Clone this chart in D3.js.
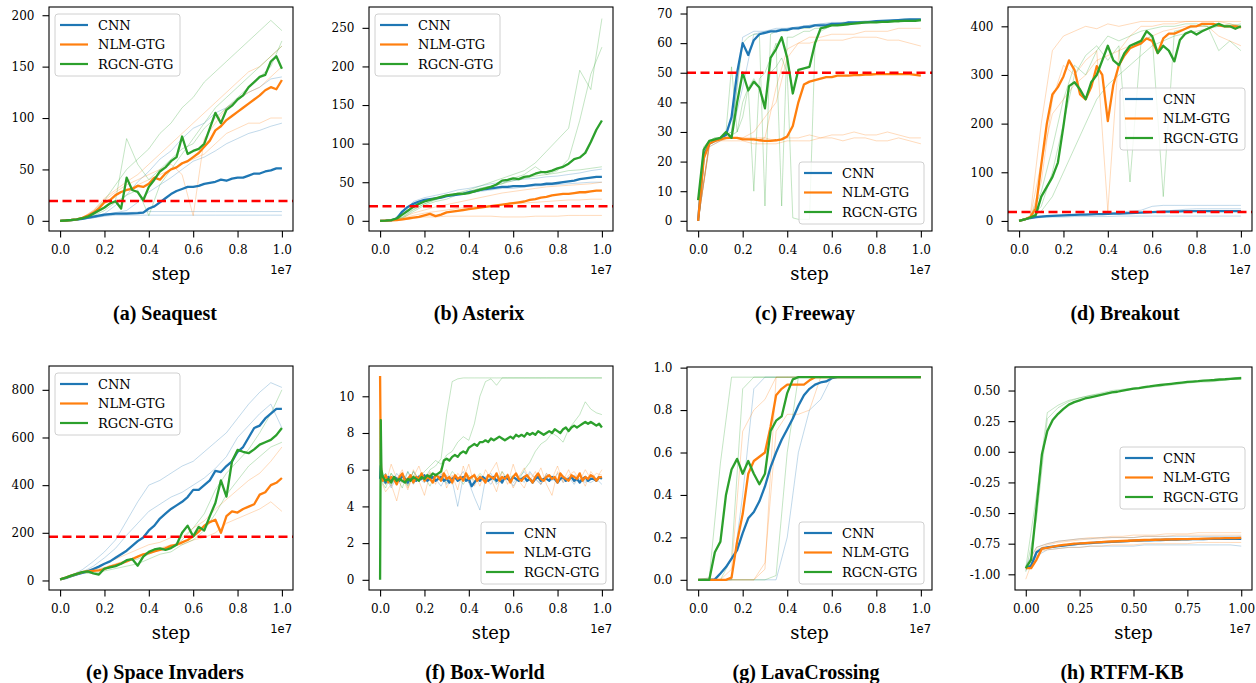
<!DOCTYPE html>
<html>
<head>
<meta charset="utf-8">
<script src="https://cdn.jsdelivr.net/npm/d3@7"></script>
<style>
body { margin: 0; background: #fff; }
svg { display: block; }
</style>
</head>
<body>
<svg id="chart" width="1256" height="683"></svg>
<script>
// ---- data (x runs evenly from 0 to 1e7 steps) ----
var methods = ["CNN", "NLM-GTG", "RGCN-GTG"];

// (a) Seaquest
var seaquestCNN = [0,0.3,0.7,1.2,2,3,4,5,6,6.5,7,7,7,7.2,7.5,8,12,14,18,22,26,29,31,33,33,34,36,37,38,40,39,41,42,42,44,46,46,48,49,51,51];
var seaquestNLM = [0,0.3,0.8,1.5,3,5,8,12,18,20,25,28,30,31,34,33,36,42,40,46,50,52,56,58,62,66,72,78,88,92,98,102,106,110,114,118,122,127,130,128,137];
var seaquestRGCN = [0,0.3,0.8,1.5,2.5,4,7,10,13,17,19,12,42,30,28,20,33,40,48,52,58,62,82,65,68,70,75,90,105,95,108,112,118,122,130,135,140,142,155,160,148];
var seaquestCNNRuns = [
  [0,0.5,1.5,3,5,7,8,8.5,9,9,9,9,9,9,9,9,9,9,9,9,9],
  [0,0.5,1.5,3,4.5,5.5,5.5,5.5,5.5,5.5,5.5,5.5,5.5,5.5,5.5,5.5,5.5,5.5,5.5,5.5,5.5],
  [0,0.5,2,4,7,15,25,38,48,60,68,80,90,95,105,110,118,125,130,138,140],
  [0,0.5,1.5,3,6,8,10,18,28,35,42,50,58,62,68,75,80,85,88,92,95]];
var seaquestNLMRuns = [
  [0,0.5,3,10,22,30,38,45,55,65,75,85,95,105,115,125,135,145,150,160,170],
  [0,0.5,2,8,18,25,30,35,40,45,50,55,60,65,75,85,90,95,95,100,100],
  [0,0.5,3,10,20,28,35,40,45,50,55,45,5,80,95,110,118,125,130,140,150]];
var seaquestRGCNRuns = [
  [0,0.5,3,8,20,35,50,60,70,85,95,110,120,135,145,155,165,175,185,195,185],
  [0,0.5,2,6,12,20,80,55,40,50,60,70,75,90,100,110,120,130,140,150,175],
  [0,0.5,2,5,10,18,25,30,5,35,50,65,80,95,110,120,130,140,150,160,170]];

// (b) Asterix
var asterixCNN = [0,0.2,0.6,3,12,18,22,25,27,28,29,30,32,33,34,35,37,38,40,41,42,43,44,44,45,45,45,46,47,47,48,48,49,50,51,52,54,55,56,57,57];
var asterixNLM = [0,0.2,0.5,1,2,3,4,5,7,9,6,8,11,12,13,14,15,16,17,18,19,20,21,22,23,24,25,27,28,30,31,33,34,35,35,36,37,37,38,39,39];
var asterixRGCN = [0,0.3,1,3,8,13,18,22,25,27,29,31,33,34,35,35,36,38,40,42,44,47,52,53,55,54,57,58,61,63,63,65,68,70,74,80,82,88,102,118,130];
var asterixCNNRuns = [
  [0,0.5,10,25,30,33,36,40,42,45,48,50,52,54,55,57,58,60,62,65,67],
  [0,0.3,8,20,25,28,32,35,36,38,40,42,42,44,45,46,47,48,49,50,50]];
var asterixNLMRuns = [
  [0,0.2,1,3,5,5,6,6,6,6,6,5,5,5,6,6,6,7,7,7,7],
  [0,0.5,3,7,10,12,14,16,18,19,20,21,22,23,24,25,26,27,27,28,28],
  [0,0.5,4,10,14,18,21,24,27,30,33,36,38,40,42,44,45,46,47,48,50]];
var asterixRGCNRuns = [
  [0,0.5,5,15,22,28,32,36,40,45,50,55,60,65,75,90,105,120,195,170,262],
  [0,0.5,4,14,22,27,32,36,38,42,45,48,52,55,58,60,62,65,66,68,70],
  [0,0.5,3,12,20,25,28,34,38,42,45,48,55,60,70,60,65,80,130,190,225]];

// (c) Freeway
var freewayCNN = [0,22,26,27,28,29,35,50,60,56,61,63,63.5,64,64,64.5,64.5,65,65,65.5,65.5,66,66,66,66.5,66.5,66.5,67,67,67,67,67.2,67.4,67.5,67.6,67.7,67.8,67.9,68,68,68];
var freewayNLM = [0,21,26,27,27.5,28,28,28,27.5,27.5,27.5,27.2,27,27,27.2,27.5,28.5,32,40,46,47,47.5,48,48.5,48.5,49,49,49,49.2,49.2,49.4,49.4,49.5,49.5,49.5,49.5,49.5,49.5,49.5,49.3,49];
var freewayRGCN = [7,24,27,27.5,28,30,28,40,50,44,47,45,38,55,58,62,55,43,51,51.5,52,60,65,65.5,66,66,66.2,66.4,66.6,66.8,67,67,67,67.2,67.2,67.4,67.4,67.5,67.5,67.5,67.8];
var freewayCNNRuns = [
  [0,26,28,30,62,64,64,65,65,65.5,66,66.5,66.5,67,67,67,67.5,67.5,68,68,68],
  [0,25,27,29,45,63,64,64.5,65,65.5,66,66.5,67,67,67,67.5,67.5,67.5,68,68,68]];
var freewayNLMRuns = [
  [0,26,28,28,28,27,28,27,28,28,29,28,29,29,30,29,29,30,29,28,28],
  [0,25,27,27,27,26,26,26,27,27,27,28,28,27,28,28,27,27,28,27,26],
  [0,26,28,28,28,30,35,40,55,60,62,62,63,63,63,64,64,64,65,65,65],
  [0,26,27,28,28,28,28,45,58,60,60,61,61,61,62,62,62,61,61,60,59]];
var freewayRGCNRuns = [
  [7,25,27,28,28,29,30,45,60,62,63,63,5,63,64,64,64,65,65,65,65,66,66,66,66,66,67,67,67,67,67,67,67,67,67,67,68,68,68,68,68],
  [7,24,27,28,28,30,52,30,35,45,10,48,50,55,60,5,62,62,63,64,64,65,65,65,66,66,66,66,67,67,67,67,67,67,67,67,67,68,68,68,68],
  [7,23,26,27,28,29,29,30,40,45,48,45,40,50,52,55,50,1,0.5,0.5,0.5,60,64,65,66,66,66,67,67,67,67,67,67,67,67,67.5,67.5,67.5,67.5,67.5,67.5]];

// (d) Breakout
var breakoutCNN = [0,3,6,8,9,10,10.5,11,11.5,12,12.5,13,13,13.5,14,14,14.5,15,15,15.5,16,16.5,17,17.5,18,18.5,19,19,19.5,19.5,20,20,20,20,20,20,20,20,20,20,20];
var breakoutNLM = [0,3,8,25,115,200,260,275,297,330,310,260,250,275,318,300,205,280,320,340,355,360,365,375,370,345,375,385,385,390,395,400,400,405,405,405,402,400,400,400,398];
var breakoutRGCN = [0,3,7,12,50,70,90,120,195,277,285,270,250,285,300,330,360,330,320,345,360,365,370,390,380,345,360,350,328,372,385,390,383,390,395,400,405,400,400,395,400];
var breakoutCNNRuns = [
  [0,8,10,11,12,13,14,15,16,18,20,22,30,32,32,32,32,32,32,32,32],
  [0,6,9,10,11,12,13,14,15,16,17,18,19,20,22,24,25,25,25,25,25],
  [0,5,7,8,8,9,9,9,9,10,10,10,10,10,10,10,10,10,10,10,10]];
var breakoutNLMRuns = [
  [0,10,200,350,380,390,400,395,405,400,405,410,410,410,410,410,410,410,410,410,410],
  [0,5,80,250,320,300,330,350,20,350,380,400,400,405,405,410,410,410,410,405,400],
  [0,8,120,220,250,280,300,330,340,350,360,370,380,390,395,400,400,400,380,370,360]];
var breakoutRGCNRuns = [
  [0,5,30,100,200,300,340,360,330,360,80,370,380,50,390,395,400,400,400,405,400],
  [0,8,60,150,250,320,300,350,380,370,380,390,395,400,400,405,405,400,350,370,350],
  [0,6,20,50,100,150,200,250,280,300,320,340,360,370,380,385,390,395,400,400,405]];

// (e) Space Invaders
var invadersCNN = [5,10,18,25,32,38,48,58,70,80,95,110,125,145,165,180,210,230,260,280,300,315,330,350,380,380,400,420,460,455,480,500,540,560,600,640,650,680,700,720,720];
var invadersNLM = [5,12,20,28,35,38,40,42,48,58,65,72,80,90,100,110,115,122,128,135,145,150,160,170,185,205,230,245,255,200,270,290,285,300,310,320,360,370,400,410,430];
var invadersRGCN = [5,12,20,28,35,38,30,25,50,55,60,70,85,90,62,100,120,130,135,128,136,150,200,230,185,225,210,270,325,420,352,500,548,540,534,550,570,580,590,610,640];
var invadersCNNRuns = [
  [5,22,45,80,120,170,250,330,400,420,450,480,500,540,580,620,680,740,790,830,810],
  [5,18,35,60,95,135,190,240,290,320,350,370,400,430,470,520,600,650,700,740,640]];
var invadersNLMRuns = [
  [5,18,35,45,55,70,85,100,120,135,150,150,170,180,200,240,260,280,300,330,290],
  [5,20,38,50,70,90,110,130,150,160,180,180,220,250,300,340,380,420,450,500,560]];
var invadersRGCNRuns = [
  [5,18,35,40,50,60,80,90,110,130,140,170,220,280,380,450,500,550,620,700,800],
  [5,15,30,30,40,50,60,70,90,110,120,150,170,210,280,360,420,480,520,560,580]];

// (f) Box-World (mean curves sampled densely, with the spike at step 0)
var boxSteps = [0, 30000, 60000].concat(d3.range(1, 81).map(function (i) { return i * 125000; }));
var boxCNN = [5.5,6.2,5.8,
  5.5,5.3,5.6,5.4,5.6,5.5,5.4,5.7,5.5,5.3,5.6,5.5,5.4,5.6,5.5,5.7,5.4,5.5,5.6,5.4,
  5.5,5.6,5.4,5.5,5.3,5.5,5.6,5.4,5.5,5.6,5.4,5.5,5.1,5.3,5.5,5.4,5.6,5.5,5.4,5.5,
  5.6,5.4,5.5,5.3,5.6,5.5,5.4,5.6,5.5,5.4,5.5,5.6,5.4,5.5,5.3,5.5,5.6,5.4,5.5,5.5,
  5.4,5.6,5.5,5.3,5.5,5.6,5.4,5.5,5.6,5.4,5.5,5.3,5.5,5.6,5.4,5.5,5.5,5.4,5.6,5.5];
var boxNLM = [11.1,6.5,5.6,
  5.4,5.7,5.3,5.6,5.5,5.2,5.6,5.8,5.4,5.5,5.7,5.3,5.6,5.5,5.8,5.4,5.6,5.5,5.3,5.7,
  5.6,5.4,5.8,5.5,5.6,5.3,5.7,5.5,5.6,5.4,5.8,5.5,5.6,5.7,5.4,5.6,5.5,5.3,5.7,5.6,
  5.5,5.8,5.4,5.6,5.5,5.7,5.3,5.6,5.8,5.5,5.4,5.6,5.7,5.5,5.3,5.6,5.8,5.5,5.4,5.6,
  5.7,5.5,5.6,5.3,5.8,5.6,5.5,5.4,5.7,5.6,5.5,5.8,5.4,5.6,5.5,5.7,5.6,5.4,5.6,5.6];
var boxRGCN = [0,8.7,6.0,
  5.6,5.4,5.5,5.3,5.6,5.4,5.5,5.4,5.3,5.5,5.4,5.6,5.5,5.4,5.6,5.5,5.7,5.6,5.8,5.7,
  5.8,5.9,6.5,6.6,6.5,6.7,6.8,6.7,6.9,7.0,6.9,7.2,7.3,7.4,7.3,7.5,7.5,7.6,7.5,7.7,
  7.6,7.7,7.8,7.7,7.6,7.7,7.8,7.7,7.9,7.8,7.9,7.8,8.0,7.9,8.0,7.9,8.1,8.0,7.9,8.0,
  8.1,8.0,8.2,8.1,8.0,8.2,8.3,8.1,8.3,8.4,8.3,8.4,8.5,8.6,8.5,8.6,8.5,8.4,8.5,8.3];
var boxCNNRuns = [
  [5.5,5.8,5.0,5.6,5.3,5.9,5.2,5.7,5.4,5.8,5.5,5.1,5.7,5.4,4.0,5.6,5.3,4.5,3.8,5.5,5.2,5.8,5.4,5.7,5.1,5.6,5.3,5.9,5.5,5.2,5.7,5.4,5.8,5.3,5.6,5.2,5.7,5.4,5.3,5.5,5.2],
  [5.3,5.6,5.1,5.8,5.4,5.2,5.9,5.5,5.3,5.7,5.4,5.8,5.2,5.6,5.5,5.9,5.3,5.7,5.4,5.6,5.8,5.2,5.5,5.7,5.3,5.6,5.9,5.4,5.5,5.2,5.8,5.5,5.3,5.6,5.4,5.7,5.5,5.3,5.6,5.4,5.6]];
var boxNLMRuns = [
  [5.5,4.8,5.2,4.3,5.6,4.9,6.0,5.4,4.6,5.8,5.2,6.1,5.0,5.7,4.9,6.2,5.3,5.8,5.1,6.0,5.5,4.8,5.9,5.2,6.3,5.4,5.0,5.8,5.5,6.1,5.2,4.6,5.9,5.4,6.0,5.3,5.7,5.1,5.9,5.5,6.0],
  [5.8,5.2,6.3,5.5,6.0,5.0,5.6,6.2,5.3,5.9,5.4,5.7,6.0,5.2,5.8,5.5,6.3,5.1,5.7,5.4,5.9,6.4,5.3,5.8,5.0,5.6,6.1,5.4,5.9,5.2,5.8,5.5,6.2,5.3,5.7,5.9,5.4,6.0,5.5,5.8,5.7]];
var boxRGCNRuns = [
  [5.5,5.8,5.2,5.6,5.0,5.9,5.4,5.7,5.5,6.0,6.2,6.6,9.0,10.8,10.95,11,11,11,11,11,11,11,11,11,11,11,11,11,11,11,11,11,11,11,11,11,11,11,11,11,11],
  [5.5,5.2,5.8,5.4,5.6,5.1,5.7,5.5,5.9,6.2,6.5,6.3,6.8,7.0,7.5,7.8,7.6,8.5,10.0,10.8,10.95,10.6,11,11,11,11,11,11,11,11,11,11,11,11,11,11,11,11,11,11,11],
  [5.5,5.0,5.8,5.3,5.6,5.2,5.9,5.4,5.6,5.1,5.8,5.5,5.3,5.9,5.6,5.2,5.7,5.4,5.8,5.5,5.6,5.3,5.9,5.5,5.7,5.4,6.0,6.4,7.0,7.4,7.6,8.0,7.8,7.5,8.2,8.6,9.0,9.7,9.3,9.1,9.0]];

// (g) LavaCrossing
var lavaCNN = [0,0,0,0.002,0.03,0.06,0.1,0.14,0.22,0.29,0.32,0.37,0.44,0.53,0.6,0.66,0.71,0.76,0.82,0.87,0.9,0.92,0.93,0.935,0.95,0.955,0.955,0.955,0.955,0.955,0.955,0.955,0.955,0.955,0.955,0.955,0.955,0.955,0.955,0.955,0.955];
var lavaNLM = [0,0,0,0,0,0,0.01,0.18,0.31,0.5,0.56,0.58,0.6,0.72,0.87,0.9,0.92,0.92,0.92,0.92,0.94,0.955,0.955,0.955,0.955,0.955,0.955,0.955,0.955,0.955,0.955,0.955,0.955,0.955,0.955,0.955,0.955,0.955,0.955,0.955,0.955];
var lavaRGCN = [0,0,0,0.13,0.18,0.4,0.52,0.57,0.5,0.56,0.5,0.45,0.5,0.7,0.75,0.77,0.88,0.945,0.955,0.955,0.955,0.955,0.955,0.955,0.955,0.955,0.955,0.955,0.955,0.955,0.955,0.955,0.955,0.955,0.955,0.955,0.955,0.955,0.955,0.955,0.955];
var lavaCNNRuns = [
  [0,0,0,0,0.4,0.9,0.955,0.955,0.955,0.955,0.955,0.955,0.955,0.955,0.955,0.955,0.955,0.955,0.955,0.955,0.955],
  [0,0,0,0,0,0,0,0,0.2,0.6,0.8,0.85,0.955,0.955,0.955,0.955,0.955,0.955,0.955,0.955,0.955]];
var lavaNLMRuns = [
  [0,0,0,0.05,0.7,0.8,0.85,0.955,0.955,0.955,0.955,0.955,0.955,0.955,0.955,0.955,0.955,0.955,0.955,0.955,0.955],
  [0,0,0,0,0,0,0.08,0.7,0.78,0.78,0.8,0.955,0.955,0.955,0.955,0.955,0.955,0.955,0.955,0.955,0.955],
  [0,0,0,0,0,0,0.05,0.955,0.955,0.955,0.955,0.955,0.955,0.955,0.955,0.955,0.955,0.955,0.955,0.955,0.955]];
var lavaRGCNRuns = [
  [0,0.01,0.55,0.955,0.955,0.955,0.955,0.955,0.955,0.955,0.955,0.955,0.955,0.955,0.955,0.955,0.955,0.955,0.955,0.955,0.955],
  [0,0,0,0.1,0.9,0.955,0.955,0.955,0.955,0.955,0.955,0.955,0.955,0.955,0.955,0.955,0.955,0.955,0.955,0.955,0.955],
  [0,0,0,0,0,0,0,0.02,0.6,0.955,0.955,0.955,0.955,0.955,0.955,0.955,0.955,0.955,0.955,0.955,0.955]];

// (h) RTFM-KB
var rtfmCNN = [-0.95,-0.93,-0.82,-0.79,-0.78,-0.775,-0.77,-0.765,-0.76,-0.755,-0.75,-0.748,-0.745,-0.742,-0.74,-0.738,-0.735,-0.733,-0.73,-0.728,-0.725,-0.724,-0.723,-0.722,-0.72,-0.72,-0.718,-0.717,-0.716,-0.715,-0.714,-0.713,-0.712,-0.712,-0.711,-0.711,-0.71,-0.71,-0.71,-0.71,-0.71];
var rtfmNLM = [-0.95,-0.95,-0.88,-0.79,-0.785,-0.775,-0.765,-0.76,-0.755,-0.75,-0.748,-0.745,-0.742,-0.74,-0.737,-0.734,-0.732,-0.73,-0.728,-0.726,-0.724,-0.722,-0.72,-0.719,-0.718,-0.717,-0.716,-0.715,-0.714,-0.713,-0.712,-0.711,-0.71,-0.709,-0.708,-0.707,-0.706,-0.705,-0.705,-0.704,-0.703];
var rtfmRGCN = [-0.95,-0.88,-0.45,-0.02,0.17,0.26,0.31,0.35,0.385,0.405,0.42,0.435,0.445,0.455,0.465,0.475,0.485,0.49,0.5,0.508,0.515,0.52,0.527,0.533,0.54,0.545,0.55,0.555,0.56,0.565,0.57,0.573,0.576,0.58,0.583,0.586,0.59,0.592,0.595,0.598,0.6];
var rtfmCNNRuns = [
  [-0.97,-0.85,-0.8,-0.79,-0.78,-0.78,-0.77,-0.77,-0.77,-0.77,-0.77,-0.76,-0.76,-0.76,-0.76,-0.76,-0.76,-0.76,-0.76,-0.76,-0.77],
  [-0.93,-0.78,-0.75,-0.73,-0.72,-0.71,-0.71,-0.7,-0.7,-0.7,-0.7,-0.69,-0.69,-0.69,-0.69,-0.69,-0.69,-0.69,-0.69,-0.69,-0.69]];
var rtfmNLMRuns = [
  [-0.95,-0.78,-0.75,-0.73,-0.72,-0.71,-0.7,-0.7,-0.69,-0.69,-0.68,-0.68,-0.68,-0.67,-0.67,-0.67,-0.66,-0.66,-0.66,-0.66,-0.66],
  [-0.96,-0.82,-0.8,-0.79,-0.78,-0.78,-0.77,-0.77,-0.76,-0.76,-0.76,-0.75,-0.75,-0.75,-0.75,-0.75,-0.74,-0.74,-0.74,-0.74,-0.74],
  [-1.04,-0.8,-0.76,-0.74,-0.73,-0.72,-0.71,-0.71,-0.7,-0.7,-0.7,-0.69,-0.69,-0.69,-0.68,-0.68,-0.68,-0.68,-0.68,-0.68,-0.68]];
var rtfmRGCNRuns = [
  [-0.95,-0.35,0.32,0.38,0.42,0.44,0.46,0.47,0.49,0.5,0.51,0.52,0.53,0.54,0.55,0.56,0.57,0.57,0.58,0.59,0.6],
  [-0.98,-0.55,0.27,0.36,0.41,0.44,0.46,0.48,0.5,0.51,0.52,0.53,0.54,0.55,0.56,0.57,0.58,0.58,0.59,0.6,0.61]];

// ---- layout ----
var colors = ["#1f77b4", "#ff7f0e", "#2ca02c"];
var xTicks = [0, 2e6, 4e6, 6e6, 8e6, 1e7];
var xTicksH = [0, 2.5e6, 5e6, 7.5e6, 1e7];

var panels = [
  { title: "(a) Seaquest", box: [49, 7, 293, 231], yDomain: [-9.9, 208], yTicks: [0,50,100,150,200], dec: 0,
    means: [seaquestCNN, seaquestNLM, seaquestRGCN], runs: [seaquestCNNRuns, seaquestNLMRuns, seaquestRGCNRuns],
    threshold: 19.3, legend: [55, 14], titleX: 165 },
  { title: "(b) Asterix", box: [369, 7, 613, 231], yDomain: [-13.2, 277], yTicks: [0,50,100,150,200,250], dec: 0,
    means: [asterixCNN, asterixNLM, asterixRGCN], runs: [asterixCNNRuns, asterixNLMRuns, asterixRGCNRuns],
    threshold: 19, legend: [375, 14], titleX: 479 },
  { title: "(c) Freeway", box: [687, 7, 932, 231], yDomain: [-3.44, 72.2], yTicks: [0,10,20,30,40,50,60,70], dec: 0,
    means: [freewayCNN, freewayNLM, freewayRGCN], runs: [freewayCNNRuns, freewayNLMRuns, freewayRGCNRuns],
    threshold: 50, legend: [799, 162], titleX: 805 },
  { title: "(d) Breakout", box: [1008, 7, 1252, 231], yDomain: [-20.7, 439.7], yTicks: [0,100,200,300,400], dec: 0,
    means: [breakoutCNN, breakoutNLM, breakoutRGCN], runs: [breakoutCNNRuns, breakoutNLMRuns, breakoutRGCNRuns],
    threshold: 18.5, legend: [1120, 88], titleX: 1125 },
  { title: "(e) Space Invaders", box: [49, 366, 293, 590], yDomain: [-40, 900], yTicks: [0,200,400,600,800], dec: 0,
    means: [invadersCNN, invadersNLM, invadersRGCN], runs: [invadersCNNRuns, invadersNLMRuns, invadersRGCNRuns],
    threshold: 183, legend: [55, 373], titleX: 165 },
  { title: "(f) Box-World", box: [369, 366, 613, 590], yDomain: [-0.555, 11.65], yTicks: [0,2,4,6,8,10], dec: 0,
    means: [boxCNN, boxNLM, boxRGCN], meanSteps: boxSteps, runs: [boxCNNRuns, boxNLMRuns, boxRGCNRuns],
    threshold: null, legend: [481, 522], titleX: 485 },
  { title: "(g) LavaCrossing", box: [687, 367, 932, 590], yDomain: [-0.048, 1.003], yTicks: [0,0.2,0.4,0.6,0.8,1.0], dec: 1,
    means: [lavaCNN, lavaNLM, lavaRGCN], runs: [lavaCNNRuns, lavaNLMRuns, lavaRGCNRuns],
    threshold: null, legend: [799, 522], titleX: 806 },
  { title: "(h) RTFM-KB", box: [1015, 367, 1252, 590], yDomain: [-1.128, 0.692], yTicks: [-1,-0.75,-0.5,-0.25,0,0.25,0.5], dec: 2,
    means: [rtfmCNN, rtfmNLM, rtfmRGCN], runs: [rtfmCNNRuns, rtfmNLMRuns, rtfmRGCNRuns],
    threshold: null, legend: [1120, 447], titleX: 1122, wideX: true }
];

var svg = d3.select("#chart");

function gridSteps(n) {
  return d3.range(n).map(function (i) { return i / (n - 1) * 1e7; });
}

panels.forEach(drawPanel);

function drawPanel(p) {
  var x0 = p.box[0], y0 = p.box[1], x1 = p.box[2], y1 = p.box[3];
  var x = d3.scaleLinear().domain([-0.05e7, 1.05e7]).range([x0, x1]);
  var y = d3.scaleLinear().domain(p.yDomain).range([y1, y0]);
  var g = svg.append("g");

  function pathFor(vals, steps) {
    steps = steps || gridSteps(vals.length);
    return d3.line()
      .x(function (d, i) { return x(steps[i]); })
      .y(function (d) { return y(d); })(vals);
  }

  // individual runs, faint
  p.runs.forEach(function (set, m) {
    set.forEach(function (r) {
      g.append("path")
        .attr("d", pathFor(r))
        .attr("fill", "none")
        .attr("stroke", colors[m])
        .attr("stroke-width", 1)
        .attr("stroke-opacity", 0.28);
    });
  });

  // mean curves
  p.means.forEach(function (vals, m) {
    g.append("path")
      .attr("d", pathFor(vals, p.meanSteps))
      .attr("fill", "none")
      .attr("stroke", colors[m])
      .attr("stroke-width", 2.3)
      .attr("stroke-linejoin", "round");
  });

  if (p.threshold !== null) {
    g.append("line")
      .attr("x1", x0).attr("x2", x1)
      .attr("y1", y(p.threshold)).attr("y2", y(p.threshold))
      .attr("stroke", "#ff0000")
      .attr("stroke-width", 2.5)
      .attr("stroke-dasharray", "9,4.5");
  }

  g.append("rect")
    .attr("x", x0).attr("y", y0)
    .attr("width", x1 - x0).attr("height", y1 - y0)
    .attr("fill", "none").attr("stroke", "#000").attr("stroke-width", 1.1);

  var xAxis = g.append("g")
    .attr("transform", "translate(0," + y1 + ")")
    .call(d3.axisBottom(x)
      .tickValues(p.wideX ? xTicksH : xTicks)
      .tickFormat(function (d) { return (d / 1e7).toFixed(p.wideX ? 2 : 1); })
      .tickSize(6.5).tickPadding(8));
  var yAxis = g.append("g")
    .attr("transform", "translate(" + x0 + ",0)")
    .call(d3.axisLeft(y)
      .tickValues(p.yTicks)
      .tickFormat(function (d) { return d.toFixed(p.dec); })
      .tickSize(6.5).tickPadding(8));
  [xAxis, yAxis].forEach(function (a) {
    a.select(".domain").remove();
    a.selectAll(".tick line").attr("stroke", "#000").attr("stroke-width", 1.1);
    a.selectAll("text")
      .attr("font-family", "'DejaVu Serif', serif")
      .attr("font-size", 12)
      .attr("fill", "#000");
  });

  g.append("text")
    .attr("x", (x0 + x1) / 2).attr("y", y1 + 49)
    .attr("text-anchor", "middle")
    .attr("font-family", "'DejaVu Serif', serif")
    .attr("font-size", 18)
    .text("step");

  g.append("text")
    .attr("x", x1 - 1).attr("y", y1 + 43)
    .attr("text-anchor", "end")
    .attr("font-family", "'DejaVu Sans', sans-serif")
    .attr("font-size", 11.5)
    .text("1e7");

  g.append("text")
    .attr("x", p.titleX).attr("y", y1 + 89)
    .attr("text-anchor", "middle")
    .attr("font-family", "'Liberation Serif', serif")
    .attr("font-weight", "bold")
    .attr("font-size", 20)
    .text(p.title);

  // legend
  var lg = g.append("g").attr("transform", "translate(" + p.legend[0] + "," + p.legend[1] + ")");
  lg.append("rect")
    .attr("width", 125).attr("height", 62).attr("rx", 3)
    .attr("fill", "#fff").attr("fill-opacity", 0.8)
    .attr("stroke", "#d0d0d0").attr("stroke-width", 1);
  methods.forEach(function (name, i) {
    var ly = 11 + i * 19.5;
    lg.append("line")
      .attr("x1", 5).attr("x2", 33).attr("y1", ly).attr("y2", ly)
      .attr("stroke", colors[i]).attr("stroke-width", 2.2);
    lg.append("text")
      .attr("x", 43).attr("y", ly).attr("dy", "0.36em")
      .attr("font-family", "'DejaVu Serif', serif")
      .attr("font-size", 13)
      .text(name);
  });
}
</script>
</body>
</html>
